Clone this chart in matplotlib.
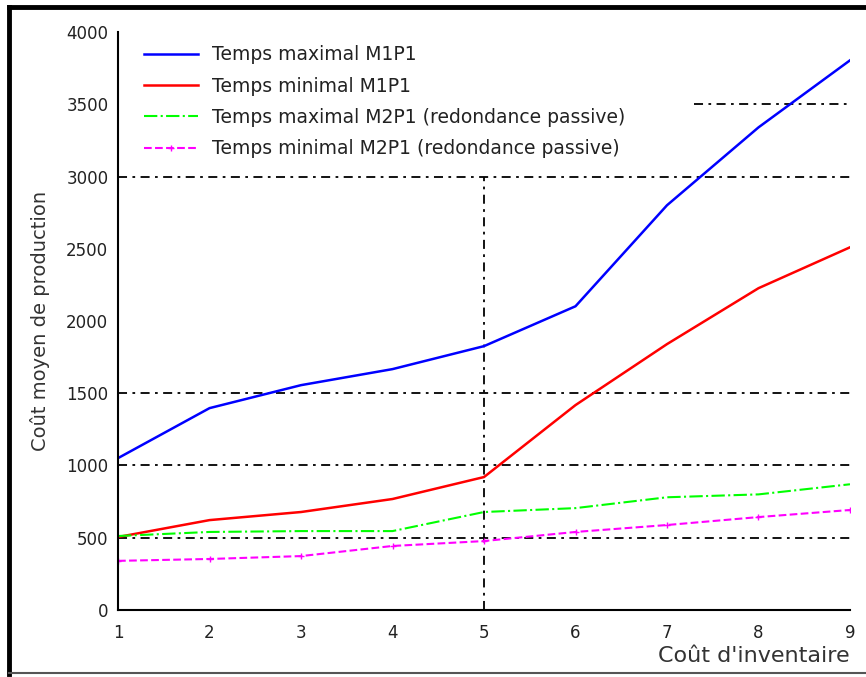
import matplotlib
matplotlib.use("Agg")
import matplotlib.pyplot as plt
from matplotlib.lines import Line2D

plt.rcParams['font.family'] = ['DejaVu Sans']

x = [1, 2, 3, 4, 5, 6, 7, 8, 9]
max_m1p1 = [1051, 1397, 1556, 1667, 1826, 2102, 2801, 3340, 3804]
min_m1p1 = [505, 622, 678, 768, 920, 1418, 1840, 2227, 2510]
max_m2p1 = [512, 540, 546, 546, 678, 705, 780, 800, 870]
min_m2p1 = [340, 353, 373, 443, 477, 540, 588, 643, 692]
grid_full = [500, 1000, 1500, 3000]

fig = plt.figure(figsize=(8.66, 6.77), dpi=100)
ax = fig.add_axes([0.1363, 0.099, 0.8452, 0.8537])

# partial dash-dot grid as in the original
gstyle = (0, (5, 3, 1.5, 3))
ax.hlines(grid_full, 1, 9, colors='black', linestyles=[gstyle], linewidth=1.3, zorder=1)
ax.hlines([3500], 7.3, 9, colors='black', linestyles=[gstyle], linewidth=1.3, zorder=1)
ax.vlines([5], 0, 3000, colors='black', linestyles=[gstyle], linewidth=1.3, zorder=1)

ax.plot(x, max_m1p1, color='#0000ff', lw=1.8, label='Temps maximal M1P1')
ax.plot(x, min_m1p1, color='#ff0000', lw=1.8, label='Temps minimal M1P1')
ax.plot(x, max_m2p1, color='#00ff00', lw=1.5, ls='-.', label='Temps maximal M2P1 (redondance passive)')
ax.plot(x, min_m2p1, color='#ff00ff', lw=1.5, ls='--', marker='+', markersize=5,
        label='Temps minimal M2P1 (redondance passive)')

ax.set_xlim(1, 9)
ax.set_ylim(0, 4000)
ax.set_xticks(x)
ax.set_yticks(range(0, 4001, 500))
ax.set_yticks(grid_full + [3500], minor=True)
ax.set_xticks([5], minor=True)
ax.tick_params(which='major', length=0, labelsize=12, colors='#222222')
ax.tick_params(axis='x', which='major', pad=10)
ax.tick_params(axis='y', which='major', pad=7)
ax.tick_params(axis='y', which='minor', direction='in', length=7, width=1.5, left=True, right=True)
ax.tick_params(axis='x', which='minor', direction='in', length=7, width=1.5)
for s in ['top', 'right']:
    ax.spines[s].set_visible(False)
for s in ['left', 'bottom']:
    ax.spines[s].set_linewidth(1.5)

ax.set_ylabel('Coût moyen de production', fontsize=14, color='#333333', labelpad=12)
ax.set_xlabel("Coût d'inventaire", fontsize=16, color='#333333', loc='right', labelpad=3)

leg = ax.legend(loc='upper left', bbox_to_anchor=(0.017, 1.0), fontsize=13.5, frameon=True,
                edgecolor='none', facecolor='white', framealpha=1, handlelength=2.9,
                handletextpad=0.75, labelspacing=0.66, borderaxespad=0.3)
for t in leg.get_texts():
    t.set_color('#222222')

# outer frame of the picture
fig.add_artist(Line2D([0.0104, 0.0104], [0.005, 0.9896], color='black', lw=3.5))
fig.add_artist(Line2D([0.0104, 1.0], [0.9896, 0.9896], color='black', lw=3.5))
fig.add_artist(Line2D([0.0104, 1.0], [0.006, 0.006], color='#555555', lw=1.5))

fig.savefig('out.png', dpi=100)
